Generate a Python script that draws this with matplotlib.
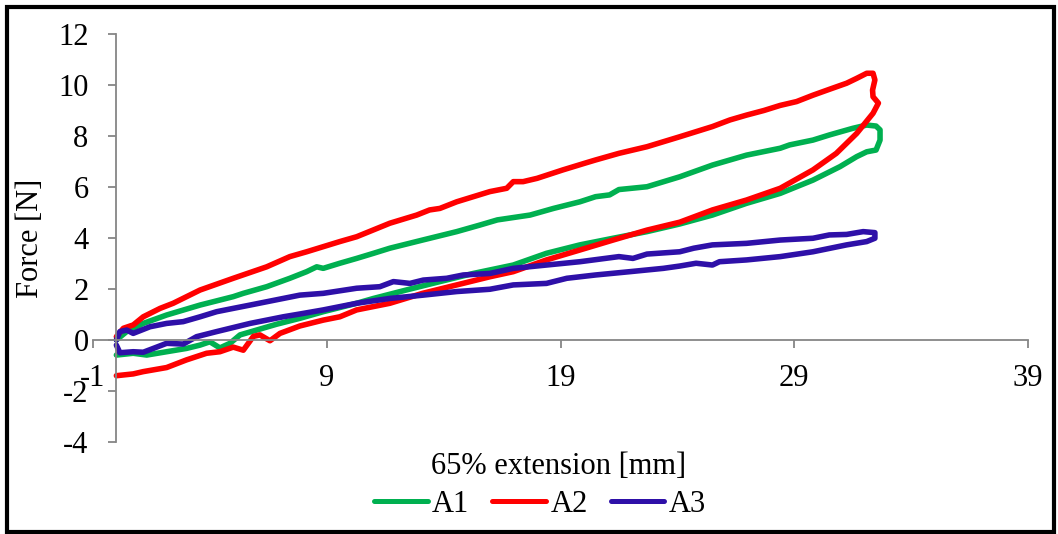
import matplotlib
matplotlib.use("Agg")
import matplotlib.pyplot as plt
from matplotlib.patches import Rectangle

plt.rcParams['font.family'] = ['Liberation Serif', 'DejaVu Serif']

# ---- data ----
a1_x = [0.0, 0.72, 1.3, 2.15, 3.0, 3.58, 4.0, 4.43, 4.86, 5.29, 6.0, 6.86, 7.85, 8.85, 10.28,
        11.0, 12.4, 13.84, 15.27, 16.98, 18.4, 19.83, 21.25, 22.7, 24.1, 25.5, 26.96, 28.4,
        29.8, 30.96, 31.67, 32.1, 32.5, 32.67, 32.67, 32.5, 32.1, 31.5, 30.5, 29.8, 28.8,
        28.4, 26.96, 25.5, 24.1, 22.7, 21.5, 21.1, 20.5, 19.83, 18.7, 17.7, 16.3, 15.56,
        14.56, 13.1, 11.7, 11.0, 10.28, 9.56, 8.85, 8.57, 8.14, 7.42, 6.43, 5.43, 5.0, 3.58,
        2.15, 1.15, 0.44, 0.0]
a1_y = [-0.59, -0.52, -0.59, -0.46, -0.33, -0.2, -0.07, -0.31, -0.13, 0.2, 0.39, 0.62, 0.85,
        1.11, 1.44, 1.63, 1.96, 2.29, 2.61, 2.94, 3.4, 3.73, 3.99, 4.25, 4.55, 4.9, 5.36, 5.75,
        6.27, 6.8, 7.19, 7.38, 7.45, 7.84, 8.24, 8.39, 8.43, 8.3, 8.04, 7.84, 7.65,
        7.52, 7.25, 6.86, 6.4, 6.01, 5.9, 5.69, 5.62, 5.42, 5.16, 4.9, 4.71, 4.51,
        4.25, 3.92, 3.6, 3.4, 3.2, 3.01, 2.81, 2.87, 2.68, 2.42, 2.09, 1.83, 1.7, 1.37,
        0.98, 0.65, 0.33, 0.0]

a2_x = [0.0, 0.72, 1.15, 2.15, 3.0, 3.86, 4.43, 5.0, 5.43, 5.86, 6.14, 6.57, 7.0, 7.85, 8.85,
        9.56, 10.28, 11.7, 13.1, 14.56, 15.98, 16.98, 18.4, 19.83, 21.25, 22.7, 24.1, 25.5,
        26.96, 28.4, 29.8, 30.8, 31.67, 32.37, 32.6, 32.37, 32.35, 32.45, 32.37, 32.1, 31.67,
        31.24, 30.5, 29.8, 29.1, 28.4, 27.7, 26.96, 26.25, 25.5, 24.8, 24.1, 22.7, 21.5,
        20.5, 20.1, 19.1, 18.0, 17.4, 16.98, 16.7, 15.98, 14.56, 13.84, 13.4, 12.85, 11.7,
        10.28, 9.56, 8.85, 8.14, 7.42, 6.43, 5.0, 3.58, 2.43, 1.87, 1.15, 0.72, 0.3, 0.0]
a2_y = [-1.4, -1.33, -1.24, -1.08, -0.78, -0.52, -0.46, -0.28, -0.4, 0.14, 0.2, -0.03, 0.26,
        0.55, 0.78, 0.91, 1.18, 1.44, 1.83, 2.16, 2.48, 2.68, 3.14, 3.53, 3.92, 4.31, 4.62,
        5.1, 5.49, 5.95, 6.67, 7.32, 8.1, 8.89, 9.29, 9.54, 9.8, 10.2, 10.46, 10.46, 10.26,
        10.07, 9.83, 9.6, 9.35, 9.2, 9.0, 8.82, 8.63, 8.37, 8.17, 7.97, 7.58, 7.32,
        7.06, 6.95, 6.67, 6.34, 6.21, 6.21, 5.95, 5.82, 5.42, 5.16, 5.1, 4.9, 4.58,
        4.05, 3.86, 3.66, 3.46, 3.27, 2.87, 2.42, 1.96, 1.44, 1.24, 0.91, 0.59, 0.46, 0.13]

a3_x = [0.0, 0.15, 0.72, 1.15, 1.58, 2.15, 2.86, 3.43, 4.29, 5.72, 7.14, 7.85, 8.85, 10.28,
        11.7, 13.13, 14.56, 15.98, 16.98, 18.4, 19.27, 20.5, 21.97, 23.4, 24.1, 24.8, 25.5,
        25.8, 26.96, 28.4, 29.8, 31.24, 32.1, 32.45, 32.45, 31.95, 31.24, 30.5, 29.8, 28.4,
        26.96, 25.5, 24.7, 24.1, 22.7, 22.1, 21.5, 19.83, 18.4, 16.98, 15.98, 14.84, 14.13,
        13.13, 12.56, 11.85, 11.27, 10.28, 8.85, 7.85, 7.14, 6.43, 5.72, 5.0, 4.29, 3.58,
        2.86, 2.15, 1.44, 0.72, 0.44, 0.15, 0.0]
a3_y = [-0.2, -0.5, -0.46, -0.48, -0.33, -0.13, -0.16, 0.13, 0.33, 0.65, 0.91, 1.02, 1.18, 1.44,
        1.63, 1.76, 1.9, 1.99, 2.16, 2.22, 2.42, 2.55, 2.68, 2.81, 2.9, 3.01, 2.94,
        3.07, 3.14, 3.27, 3.46, 3.73, 3.86, 3.99, 4.21, 4.25, 4.14, 4.12, 3.99, 3.92,
        3.79, 3.73, 3.6, 3.46, 3.37, 3.2, 3.27, 3.07, 2.94, 2.81, 2.61, 2.55, 2.42,
        2.35, 2.22, 2.29, 2.09, 2.03, 1.83, 1.76, 1.63, 1.5, 1.37, 1.24, 1.11, 0.91,
        0.72, 0.65, 0.52, 0.26, 0.39, 0.33, 0.0]

series_names = ['A1', 'A2', 'A3']
series_colors = ['#00B050', '#FF0000', '#2E10A8']

x_ticks = [-1, 9, 19, 29, 39]
y_ticks = [-4, -2, 0, 2, 4, 6, 8, 10, 12]
x_label = '65% extension [mm]'
y_label = 'Force [N]'

# ---- figure ----
W, H = 1058, 534
fig = plt.figure(figsize=(W / 100, H / 100), dpi=100)
ax = fig.add_axes([93 / W, 1 - 442 / H, 935 / W, 408 / H])

fs = 22
lw = 4.0
for xs, ys, name, col in zip([a1_x, a2_x, a3_x], [a1_y, a2_y, a3_y], series_names, series_colors):
    ax.plot(xs, ys, color=col, lw=lw, label=name, solid_capstyle='round', solid_joinstyle='round')

ax.set_xlim(-1, 39)
ax.set_ylim(-4, 12)
ax.set_xticks(x_ticks)
ax.set_yticks(y_ticks)
ax.set_xticklabels([str(v) for v in x_ticks])
ax.set_yticklabels([str(v) for v in y_ticks])

axis_col = '#868686'
ax.spines['left'].set_position(('data', 0))
ax.spines['bottom'].set_position(('data', 0))
ax.spines['top'].set_visible(False)
ax.spines['right'].set_visible(False)
for s in ('left', 'bottom'):
    ax.spines[s].set_color(axis_col)
    ax.spines[s].set_linewidth(1.3)

ax.tick_params(axis='x', direction='out', length=6, width=1.3, color=axis_col,
               labelsize=fs, pad=11)
ax.tick_params(axis='y', direction='out', length=6, width=1.3, color=axis_col,
               labelsize=fs, pad=14)
ax.patch.set_visible(False)

ax.set_xlabel(x_label, fontsize=fs)
ax.xaxis.set_label_coords(0.498, -0.024)
ax.set_ylabel(y_label, fontsize=fs)
ax.yaxis.set_label_coords(-0.051, 0.5)

leg = fig.legend(loc='center', bbox_to_anchor=(540 / W, 1 - 504 / H), ncol=3, frameon=False,
                 fontsize=fs, handlelength=1.75, handletextpad=0.15, columnspacing=0.75,
                 borderpad=0.0)
for line in leg.get_lines():
    line.set_linewidth(3.6)
    line.set_solid_capstyle('round')

fig.patches.append(Rectangle((6.5 / W, 2.5 / H), (1054 - 6.5) / W, (527.5 - 2.5) / H,
                             transform=fig.transFigure, fill=False, edgecolor='black',
                             linewidth=3.0, zorder=10))

fig.savefig('out.png', dpi=100)
